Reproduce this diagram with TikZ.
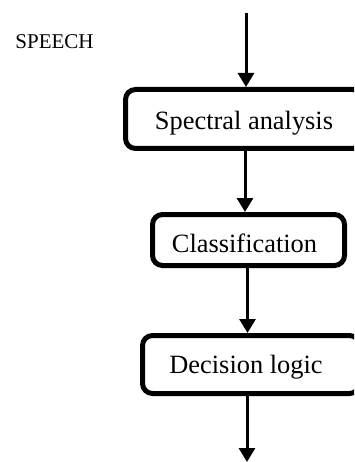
\documentclass[tikz,border=0pt]{standalone}
\usepackage{fontspec}
\setmainfont{Liberation Serif}
\usetikzlibrary{arrows.meta}
\begin{document}
\begin{tikzpicture}[x=1pt,y=-1pt,
  boxst/.style={draw, line width=5pt, rounded corners=10pt, inner sep=0pt},
  txt/.style={inner sep=0pt, anchor=base, font=\fontsize{26.4}{30}\selectfont},
  arr/.style={line width=3pt, -{Triangle[width=16pt,length=14pt]}},
  lbl/.style={inner sep=0pt, anchor=base, font=\fontsize{21}{25}\selectfont}]
\clip (0,0) rectangle (354,462);
\fill[white] (0,0) rectangle (354,462);
% boxes
\node[boxst, minimum width=237pt, minimum height=59pt] (b1) at (244,119) {};
\node[boxst, minimum width=192pt, minimum height=51pt] (b2) at (248.5,240) {};
\node[boxst, minimum width=217pt, minimum height=58pt] (b3) at (251,364.5) {};
% texts
\node[txt] (t1) at (244,130) {Spectral analysis};
\node[txt] (t2) at (244.5,252) {Classification};
\node[txt] (t3) at (246,373) {Decision logic};
\node[lbl] (sp) at (54.5,49) {SPEECH};
% connectors
\coordinate (top) at (246,13);
\coordinate (x2) at (245,0);
\coordinate (x3) at (247.5,0);
\coordinate (bot) at (247,462);
\draw[arr] (top) -- (top |- b1.north);
\draw[arr] (b1.south -| x2) -- (b2.north -| x2);
\draw[arr] (b2.south -| x3) -- (b3.north -| x3);
\draw[arr] (b3.south -| bot) -- (bot);
\end{tikzpicture}
\end{document}
